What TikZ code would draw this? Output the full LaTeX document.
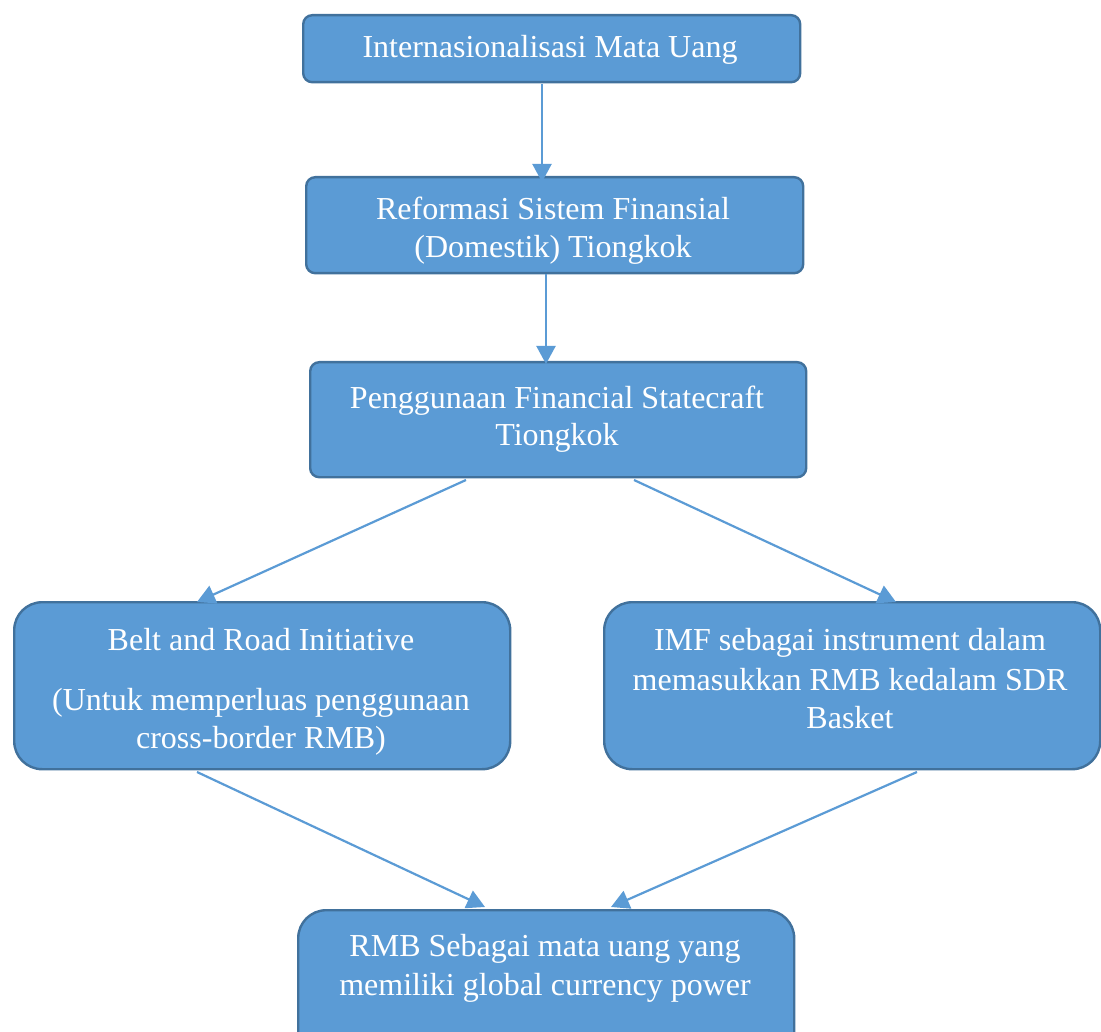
\documentclass[tikz,border=0pt]{standalone}
\usepackage{fontspec}
\setmainfont{Liberation Serif}
\usetikzlibrary{arrows.meta}
\definecolor{boxfill}{HTML}{5B9BD5}
\definecolor{boxline}{HTML}{41719C}
\definecolor{arrowcol}{HTML}{5B9BD5}
\begin{document}
\begin{tikzpicture}[x=1pt,y=-1pt,
  boxA/.style={draw=boxline,fill=boxfill,line width=2.4pt,rounded corners=9pt,anchor=north west,inner sep=0pt},
  boxB/.style={boxA,rounded corners=28pt},
  lbl/.style={anchor=base,text=white,inner sep=0pt,font=\fontsize{32}{38}\selectfont},
  conn/.style={draw=arrowcol,line width=2.2pt,-{Triangle[length=18pt,width=19pt]}}]
\useasboundingbox (0,0) rectangle (1101,1032);
\node[boxA,minimum width=497pt,minimum height=67pt] (b1) at (302,14) {};
\node[boxA,minimum width=497pt,minimum height=96pt] (b2) at (305,176) {};
\node[boxA,minimum width=496pt,minimum height=115pt] (b3) at (309,361) {};
\node[boxB,minimum width=496pt,minimum height=167pt] (b4) at (13,601) {};
\node[boxB,minimum width=496pt,minimum height=167pt] (b5) at (603,601) {};
\node[boxB,minimum width=496pt,minimum height=150pt] (b6) at (297,909) {};
\node[lbl] (t1) at (550,58) {Internasionalisasi Mata Uang};
\node[lbl] (t2a) at (553,220) {Reformasi Sistem Finansial};
\node[lbl] (t2b) at (553,258) {(Domestik) Tiongkok};
\node[lbl] (t3a) at (557,408) {Penggunaan Financial Statecraft};
\node[lbl] (t3b) at (557,446) {Tiongkok};
\node[lbl] (t4a) at (261,650) {Belt and Road Initiative};
\node[lbl] (t4b) at (261,710) {(Untuk memperluas penggunaan};
\node[lbl] (t4c) at (261,748) {cross-border RMB)};
\node[lbl] (t5a) at (850,650) {IMF sebagai instrument dalam};
\node[lbl] (t5b) at (850,690) {memasukkan RMB kedalam SDR};
\node[lbl] (t5c) at (850,728) {Basket};
\node[lbl] (t6a) at (545,956) {RMB Sebagai mata uang yang};
\node[lbl] (t6b) at (545,995) {memiliki global currency power};
\coordinate (a1s) at (542,84);   \coordinate (a1e) at (542,182);
\coordinate (a2s) at (546,274);  \coordinate (a2e) at (546,364);
\coordinate (a3s) at (466,480);  \coordinate (a3e) at (197,602);
\coordinate (a4s) at (634,480);  \coordinate (a4e) at (896,602);
\coordinate (a5s) at (197,772);  \coordinate (a5e) at (485,907);
\coordinate (a6s) at (917,772);  \coordinate (a6e) at (611,907);
\draw[conn] (a1s) -- (a1e);
\draw[conn] (a2s) -- (a2e);
\draw[conn] (a3s) -- (a3e);
\draw[conn] (a4s) -- (a4e);
\draw[conn] (a5s) -- (a5e);
\draw[conn] (a6s) -- (a6e);
\end{tikzpicture}
\end{document}
